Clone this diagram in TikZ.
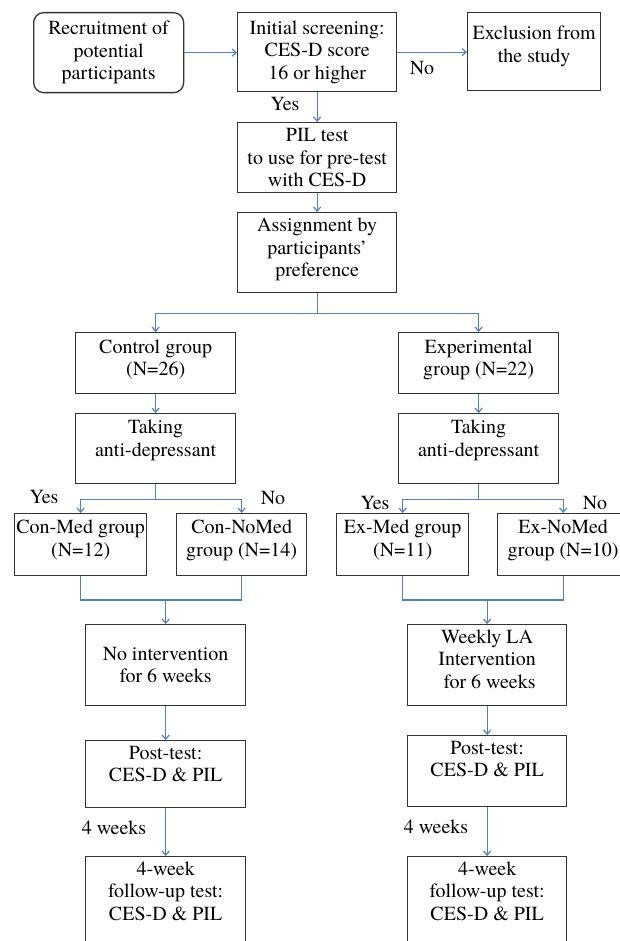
\documentclass[tikz,border=0pt]{standalone}
\usepackage{fontspec}
\setmainfont{texgyretermes}[Extension=.otf, UprightFont=*-regular, BoldFont=*-bold, ItalicFont=*-italic, BoldItalicFont=*-bolditalic]
\usetikzlibrary{arrows.meta,calc,positioning}

\definecolor{flow}{HTML}{4F81BD}
\tikzset{
  box/.style={draw=black!80, line width=1.3pt, inner sep=0pt, anchor=north west},
  txt/.style={align=center, inner sep=0pt, font=\fontsize{20}{22.5}\selectfont},
  arr/.style={draw=flow, line width=1.2pt, -{Straight Barb[length=4pt,width=7pt]}},
  lin/.style={draw=flow, line width=1.2pt},
}

\begin{document}
\begin{tikzpicture}[x=1pt,y=-1pt]
  \useasboundingbox (0,0) rectangle (620,941);
  \clip (0,0) rectangle (620,941);

  % top row
  \node[box, rounded corners=10pt, minimum width=150pt, minimum height=80pt] (rec) at (33,12) {};
  \node[box, minimum width=159pt, minimum height=79pt] (scr) at (237,12) {};
  \node[box, minimum width=133pt, minimum height=78pt] (exc) at (467,12) {};
  \node[box, minimum width=159pt, minimum height=70pt] (pil) at (237,122) {};
  \node[box, minimum width=159pt, minimum height=80pt] (asg) at (237,212) {};

  \node[txt] (rec-t) at (rec) {Recruitment of\\potential\\participants};
  \node[txt] (scr-t) at (scr) {Initial screening:\\CES-D score\\16 or higher};
  \node[txt, anchor=north, yshift=-14pt] (exc-t) at (exc.north) {Exclusion from\\the study};
  \node[txt] (pil-t) at (pil) {PIL test\\to use for pre-test\\with CES-D};
  \node[txt, yshift=3pt] (asg-t) at (asg) {Assignment by\\participants'\\preference};

  % groups
  \node[box, minimum width=160pt, minimum height=61pt] (con) at (75,332) {};
  \node[box, minimum width=160pt, minimum height=61pt] (exp) at (398,332) {};
  \node[box, minimum width=160pt, minimum height=70pt] (tk1) at (75,413) {};
  \node[box, minimum width=160pt, minimum height=70pt] (tk2) at (398,413) {};

  \node[txt, anchor=north, yshift=-7.5pt] (con-t) at (con.north) {Control group\\(N=26)};
  \node[txt, anchor=north, yshift=-7.5pt] (exp-t) at (exp.north) {Experimental\\group (N=22)};
  \node[txt, anchor=north, yshift=-7pt] (tk1-t) at (tk1.north) {Taking\\anti-depressant};
  \node[txt, anchor=north, yshift=-7pt] (tk2-t) at (tk2.north) {Taking\\anti-depressant};

  % sub groups
  \node[box, minimum width=132pt, minimum height=62pt] (cm) at (14,513) {};
  \node[box, minimum width=130pt, minimum height=62pt] (cn) at (176,513) {};
  \node[box, minimum width=132pt, minimum height=62pt] (em) at (336,513) {};
  \node[box, minimum width=131pt, minimum height=62pt] (en) at (497,513) {};

  \node[txt, anchor=north, yshift=-6.7pt] (cm-t) at (cm.north) {Con-Med group\\(N=12)};
  \node[txt, anchor=north, yshift=-6.7pt] (cn-t) at (cn.north) {Con-NoMed\\group (N=14)};
  \node[txt, anchor=north, yshift=-6.7pt] (em-t) at (em.north) {Ex-Med group\\(N=11)};
  \node[txt, anchor=north, yshift=-6.7pt] (en-t) at (en.north) {Ex-NoMed\\group (N=10)};

  % intervention and tests
  \node[box, minimum width=160pt, minimum height=81pt] (ni) at (85,624) {};
  \node[box, minimum width=159pt, minimum height=81pt] (wl) at (407,624) {};
  \node[box, minimum width=160pt, minimum height=67pt] (pt1) at (85,740) {};
  \node[box, minimum width=159pt, minimum height=71pt] (pt2) at (407,735) {};
  \node[box, minimum width=160pt, minimum height=110pt] (fu1) at (85,856) {};
  \node[box, minimum width=159pt, minimum height=110pt] (fu2) at (407,856) {};

  \node[txt] (ni-t) at (ni) {No intervention\\for 6 weeks};
  \node[txt, anchor=north, yshift=-5.4pt] (wl-t) at (wl.north) {Weekly LA\\Intervention\\\ for 6 weeks};
  \node[txt, anchor=north, yshift=-6pt] (pt1-t) at (pt1.north) {Post-test:\\CES-D \& PIL};
  \node[txt, anchor=north, yshift=-6pt] (pt2-t) at (pt2.north) {Post-test:\\CES-D \& PIL};
  \node[txt, anchor=north, yshift=-5.3pt] (fu1-t) at (fu1.north) {4-week\\follow-up test:\\CES-D \& PIL};
  \node[txt, anchor=north, yshift=-5.3pt] (fu2-t) at (fu2.north) {4-week\\follow-up test:\\CES-D \& PIL};

  % labels
  \node[txt] (no0) at (422,68) {No};
  \node[txt] (yes0) at (285,104) {Yes};
  \node[txt] (yes1) at (44,497) {Yes};
  \node[txt] (no1) at (273,498) {No};
  \node[txt] (yes2) at (375,503) {Yes};
  \node[txt] (no2) at (595,503) {No};
  \node[txt] (wk1) at (114,828) {4 weeks};
  \node[txt] (wk2) at (436,827) {4 weeks};

  \coordinate (m1) at (0,600);

  % connectors
  \draw[arr] (rec.east) -- (rec.east -| scr.west);
  \draw[arr] (scr.east) -- (scr.east -| exc.west);
  \draw[arr] (scr.south) -- (pil.north);
  \draw[arr] (pil.south) -- (asg.north);
  \draw[arr] (asg.south) -- ++(0,20) -| (con.north);
  \draw[arr] (asg.south) -- ++(0,20) -| (exp.north);
  \draw[arr] (con.south) -- (tk1.north);
  \draw[arr] (exp.south) -- (tk2.north);

  \draw[arr] (tk1.south) -- ++(0,15) -| (cm.north);
  \draw[arr] (tk1.south) -- ++(0,15) -| (cn.north);
  \draw[arr] (tk2.south) -- ++(0,15) -| (em.north);
  \draw[arr] (tk2.south) -- ++(0,15) -| (en.north);

  \draw[lin] (cm.south) |- (m1 -| cn.south) -- (cn.south);
  \draw[lin] (em.south) |- (m1 -| en.south) -- (en.south);
  \draw[arr] (m1 -| ni.north) -- (ni.north);
  \draw[arr] (m1 -| wl.north) -- (wl.north);

  \draw[arr] (ni.south) -- (pt1.north);
  \draw[arr] (wl.south) -- (pt2.north);
  \draw[arr] (pt1.south) -- (fu1.north);
  \draw[arr] (pt2.south) -- (fu2.north);
\end{tikzpicture}
\end{document}
